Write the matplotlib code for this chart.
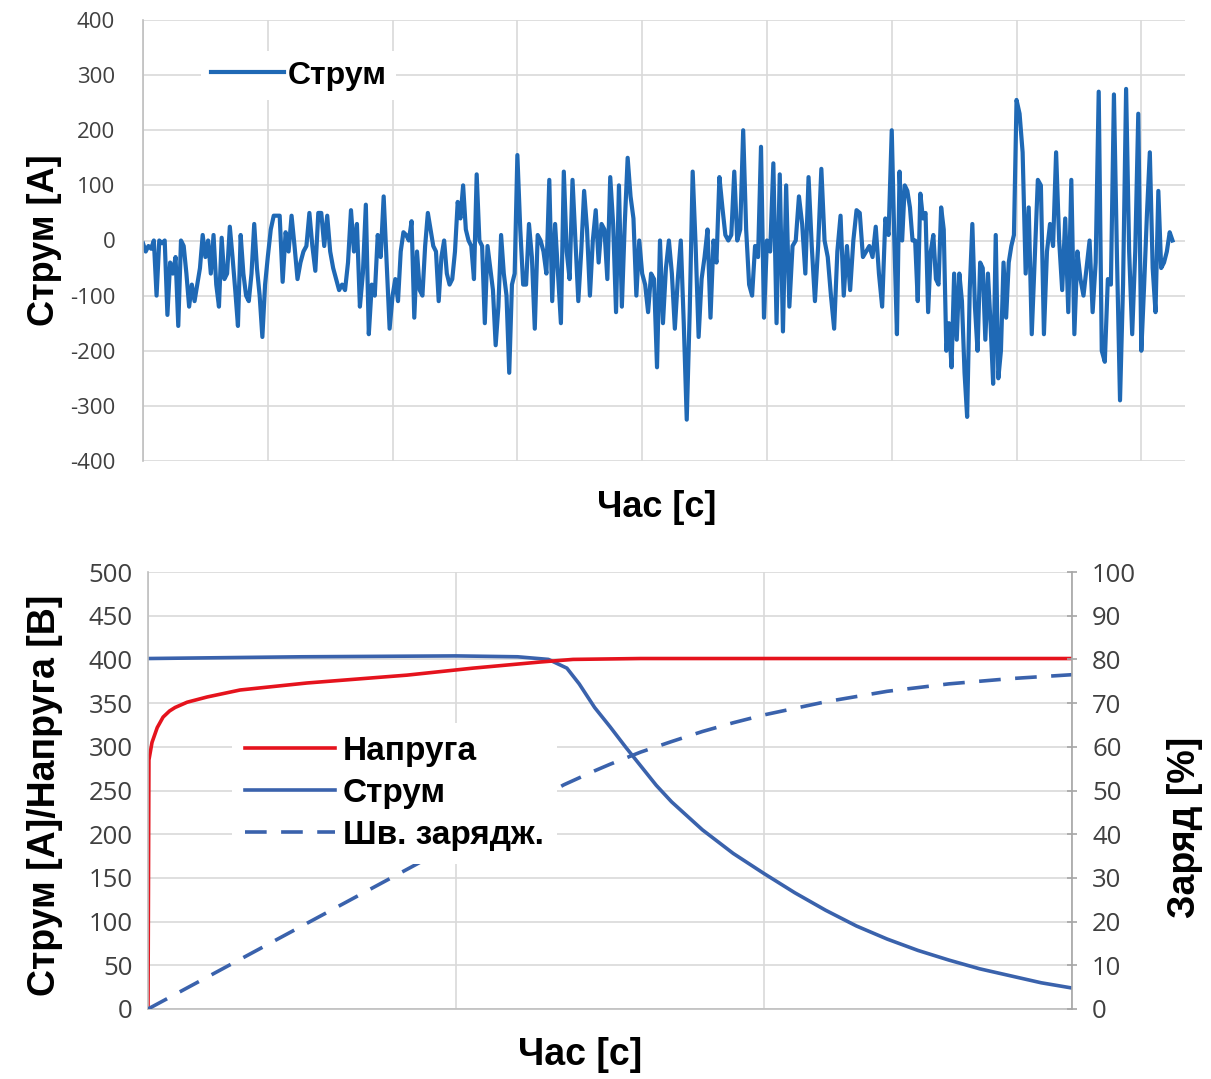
import matplotlib
matplotlib.use("Agg")
import matplotlib.pyplot as plt
import numpy as np

plt.rcParams['axes.unicode_minus'] = False

# ---- top chart: current profile, one list per grid interval ----
current_s0 = [-5, -20, -10, -15, 0, -100, 0, -5, 0, -135, -40, -60, -30, -155, 0, -10, -60, -120,
              -80, -110, -80, -50, 10, -30, 0, -60, 10, -80, -120, 5, -70, -60, 25, -30, -90, -155,
              10, -60, -100, -110, -60, 30, -50, -100, -175, -80]
current_s1 = [-30, 20, 45, 45, 45, -75, 15, -20, 45, -10, -70, -40, -20, -10, 50, -10, -55, 50, 50,
              -10, 45, -20, -50, -70, -90, -80, -90, -40, 55, -20, 30, -120, -60, 65, -170, -80,
              -100, 10, -30, 80, -40, -160]
current_s2 = [-100, -70, -110, -20, 15, 10, 0, 35, -140, -20, -90, -100, -10, 50, 20, -10, -20, -110,
              -30, 0, -60, -80, -70, -20, 70, 40, 100, 20, 0, -10, -70, 120, 0, -10, -150, -10, -50,
              -90, -190, -120, 10, -60, -100, -240, -80, -60]
current_s3 = [155, 20, -80, -80, 30, -30, -160, 10, 0, -20, -60, 110, -110, 30, -60, -150, 125, -20,
              -70, 110, 0, -110, -20, 90, 20, -100, 0, 55, -40, 30, 20, -70, 115, 30, -130, 100,
              -120, 30, 150, 80, 40, -100, 0]
current_s4 = [-60, -80, -130, -60, -70, -230, 0, -150, -50, 0, -60, -160, -70, 0, -150, -325, -130,
              125, -10, -175, -70, -30, 20, -140, 0, -40, 115, 60, 10, 0, 10, 125, 0, 20, 200, 20,
              -80, -100, -10, -30, 170, -140]
current_s5 = [0, -20, 140, -150, 120, -165, 100, -120, -10, 0, 80, 30, -60, 115, -10, -110, -10, 130,
              0, -30, -100, -160, -20, 45, -100, -10, -90, 0, 55, 50, -30, -20, -10, -30, 25, -60,
              -120, 40, 10]
current_s6 = [200, 0, -170, 125, 0, 100, 90, 60, 0, 0, -110, 85, 40, 50, -130, -20, 10, -70, -80, 60,
              20, -200, -150, -230, -60, -180, -60, -110, -240, -320, -90, 30, -120, -200, -40, -50,
              -180, -60, -150, -260, 10, -250, -200, -40, -140, -40, -10, 10]
current_s7 = [255, 230, 160, -60, 60, -170, -30, 110, 100, -170, -20, 30, -10, 160, 0, -90, 40, -130,
              110, -170, -20, -70, -100, -50, 0, -130, -40, 270, -200, -220, -70, -80, 265, -30, -290,
              -80, 275, -20, -170, -20, 230]
current_s8 = [-200, -80, 50, 160, -50, -130, 90, -50, -40, -20, 15, 0]
segments = [current_s0, current_s1, current_s2, current_s3, current_s4,
            current_s5, current_s6, current_s7, current_s8]
last_span = 0.25  # the final segment only covers part of a grid interval

# ---- bottom chart: charging curves ----
volt_t = [0, 0.003, 0.013, 0.03, 0.049, 0.07, 0.088, 0.127, 0.192, 0.299, 0.516, 0.841,
          1.055, 1.273, 1.38, 1.6, 3.0]
volt = [0, 285, 305, 322, 334, 341, 345, 351, 357, 365, 373, 382, 390, 397, 400, 401, 401]

curr_t = [0, 0.5, 1.0, 1.2, 1.30, 1.36, 1.40, 1.45, 1.50, 1.55, 1.60, 1.65, 1.70, 1.80, 1.90,
          2.00, 2.10, 2.20, 2.30, 2.40, 2.50, 2.60, 2.70, 2.80, 2.90, 3.00]
curr = [401, 403, 404, 403, 400, 390, 372, 345, 323, 300, 278, 256, 237, 205, 178, 155, 133,
        113, 95, 80, 67, 56, 46, 38, 30, 24]

soc_t = [0, 0.5, 1.0, 1.2, 1.35, 1.45, 1.5, 1.6, 1.7, 1.8, 1.9, 2.0, 2.2, 2.4, 2.6, 2.8, 3.0]
soc = [0, 19, 38, 45.5, 51.3, 54.5, 56, 58.8, 61.2, 63.5, 65.5, 67.3, 70.3, 72.7, 74.4, 75.6, 76.5]

W, H = 1211, 1079
LABEL_FONT = 'Liberation Sans'
TICK_FONT = 'Open Sans'
GRID = '#d9d9d9'
TICKCOL = '#404040'


def px(x, y):
    return x / W, 1 - y / H


def main():
    fig = plt.figure(figsize=(W / 100, H / 100), dpi=100)

    # ---------------- top ----------------
    ax1 = fig.add_axes([143 / W, 1 - 461 / H, (1185 - 143) / W, 441 / H])
    t_all, c_all = [], []
    for k, seg in enumerate(segments):
        span = last_span if k == len(segments) - 1 else 1.0
        t_all.extend(np.linspace(k, k + span, len(seg), endpoint=(k == len(segments) - 1)))
        c_all.extend(seg)
    line_top, = ax1.plot(t_all, c_all, color='#1F69B5', lw=3.0)
    ax1.set_xlim(0, 8.35)
    ax1.set_ylim(-400, 400)
    ax1.set_yticks(np.arange(-400, 401, 100))
    ax1.set_xticks(np.arange(0, 9))
    ax1.set_xticklabels([])
    ax1.grid(True, color=GRID, lw=1.2)
    ax1.set_axisbelow(True)
    ax1.tick_params(axis='y', length=0, pad=20, labelsize=16, labelcolor=TICKCOL)
    ax1.tick_params(axis='x', length=0)
    for lab in ax1.get_yticklabels():
        lab.set_fontfamily(TICK_FONT)
    for s in ['top', 'right', 'bottom']:
        ax1.spines[s].set_visible(False)
    ax1.spines['left'].set_color('#bfbfbf')
    ax1.spines['left'].set_linewidth(1.2)
    leg1 = ax1.legend([line_top], ['Струм'], loc='upper left',
                      bbox_to_anchor=px(185, 35), bbox_transform=fig.transFigure,
                      prop={'family': LABEL_FONT, 'weight': 'bold', 'size': 23},
                      handlelength=2.3, handletextpad=0.12, borderpad=0.3,
                      frameon=True, fancybox=False, framealpha=1, edgecolor='none')
    leg1.get_frame().set_facecolor('white')

    fig.text(*px(45, 240), 'Струм [А]', rotation=90, ha='center', va='center',
             family=LABEL_FONT, weight='bold', size=26)
    fig.text(*px(657, 507), 'Час [с]', ha='center', va='center',
             family=LABEL_FONT, weight='bold', size=26)

    # ---------------- bottom ----------------
    ax = fig.add_axes([148 / W, 1 - 1009 / H, 924 / W, 437 / H])
    l_curr, = ax.plot(curr_t, curr, color='#3A62AC', lw=2.6)
    l_volt, = ax.plot(volt_t, volt, color='#E5131D', lw=2.6)
    ax.set_xlim(0, 3)
    ax.set_ylim(0, 500)
    ax.set_yticks(np.arange(0, 501, 50))
    ax.set_xticks([0, 1, 2, 3])
    ax.set_xticklabels([])
    ax.grid(True, color=GRID, lw=1.2)
    ax.set_axisbelow(True)
    ax.tick_params(axis='y', length=0, pad=11, labelsize=18.5, labelcolor=TICKCOL)
    ax.tick_params(axis='x', length=0)
    for lab in ax.get_yticklabels():
        lab.set_fontfamily(TICK_FONT)
    for s in ['top', 'right']:
        ax.spines[s].set_visible(False)
    for s in ['left', 'bottom']:
        ax.spines[s].set_color('#bfbfbf')
        ax.spines[s].set_linewidth(1.2)

    ax2 = ax.twinx()
    l_soc, = ax2.plot(soc_t, soc, color='#3A62AC', lw=2.6, linestyle=(0, (6, 4)))
    ax2.set_ylim(0, 100)
    ax2.set_yticks(np.arange(0, 101, 10))
    ax2.tick_params(axis='y', direction='inout', length=7, width=1.2, color='#a6a6a6',
                    pad=11, labelsize=18.5, labelcolor=TICKCOL)
    for lab in ax2.get_yticklabels():
        lab.set_fontfamily(TICK_FONT)
    for s in ['top', 'left', 'bottom']:
        ax2.spines[s].set_visible(False)
    ax2.spines['right'].set_color('#a6a6a6')
    ax2.spines['right'].set_linewidth(1.2)

    leg2 = ax2.legend([l_volt, l_curr, l_soc], ['Напруга', 'Струм', 'Шв. зарядж.'],
                      loc='upper left', bbox_to_anchor=px(215, 706),
                      bbox_transform=fig.transFigure,
                      prop={'family': LABEL_FONT, 'weight': 'bold', 'size': 24},
                      handlelength=2.7, handletextpad=0.24, labelspacing=0.33,
                      borderpad=0.4, frameon=True, fancybox=False, framealpha=1,
                      edgecolor='none')
    leg2.get_frame().set_facecolor('white')

    fig.text(*px(45, 795), 'Струм [А]/Напруга [В]', rotation=90, ha='center', va='center',
             family=LABEL_FONT, weight='bold', size=27)
    fig.text(*px(1185, 827), 'Заряд [%]', rotation=90, ha='center', va='center',
             family=LABEL_FONT, weight='bold', size=27)
    fig.text(*px(580, 1055), 'Час [с]', ha='center', va='center',
             family=LABEL_FONT, weight='bold', size=27)

    fig.savefig('out.png', dpi=100, facecolor='white')


if __name__ == "__main__":
    main()
